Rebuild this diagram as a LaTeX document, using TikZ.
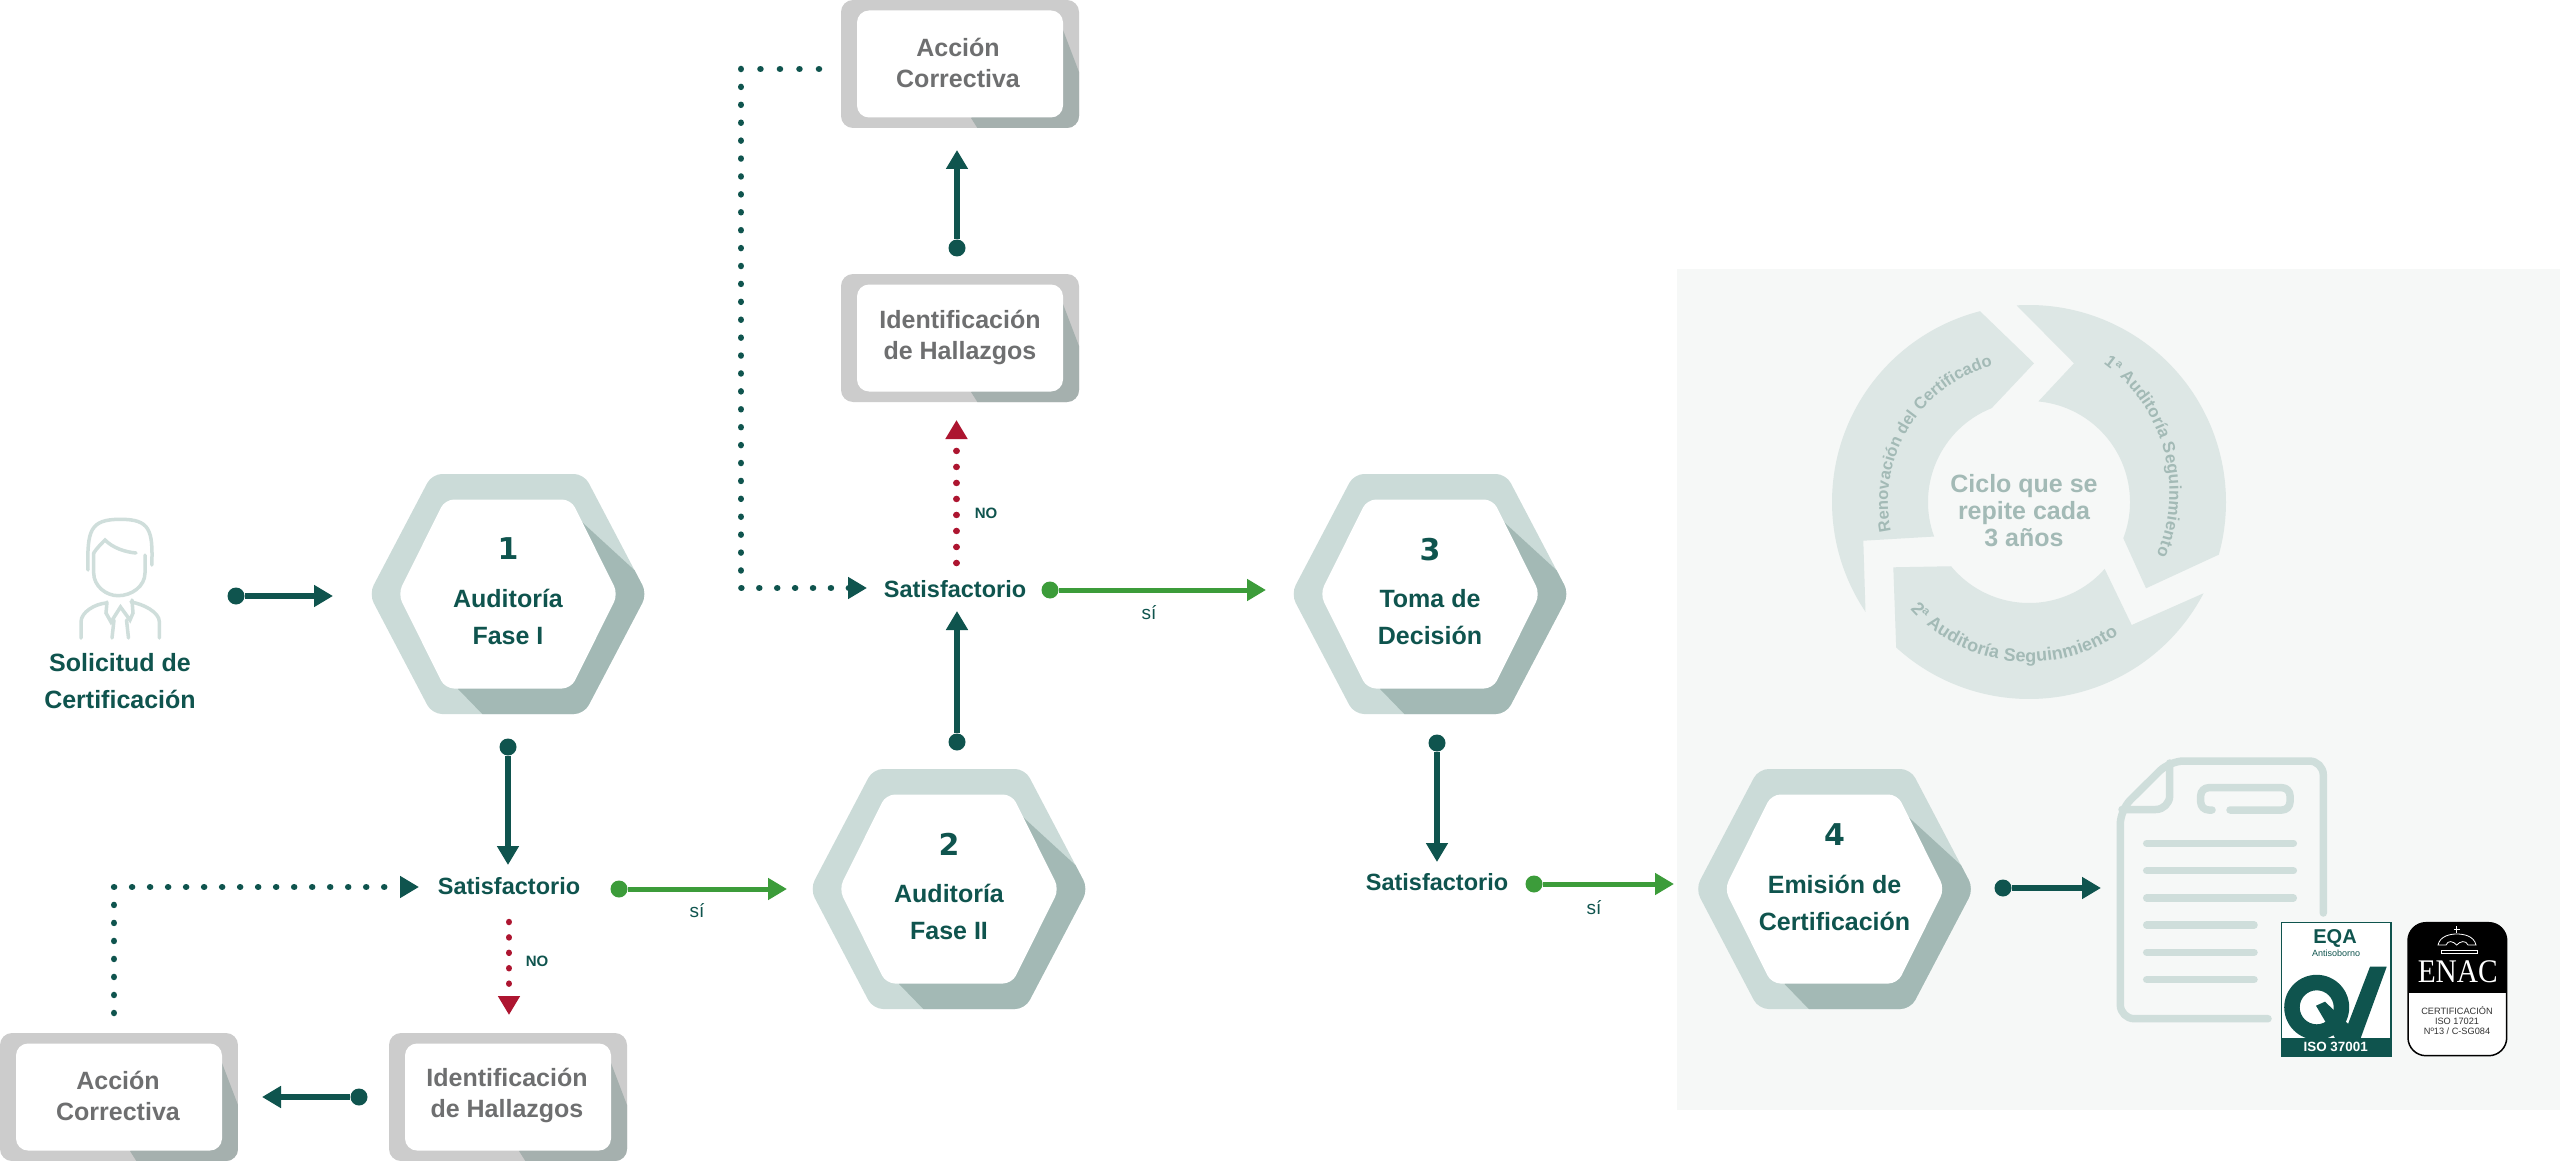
\documentclass[tikz,border=0pt]{standalone}
\usepackage{fontspec}
\setmainfont{Liberation Sans}
\newfontfamily\numfont{DejaVu Sans}
\newfontfamily\enacfont{Liberation Serif}
\usetikzlibrary{arrows.meta,decorations.text}
\definecolor{verdeosc}{HTML}{0F544E}
\definecolor{verdeok}{HTML}{3C9C3A}
\definecolor{rojono}{HTML}{AD1530}
\definecolor{hexclaro}{HTML}{CBDBD8}
\definecolor{hexoscuro}{HTML}{A3B9B5}
\definecolor{cajaclara}{HTML}{CCCCCC}
\definecolor{cajaoscura}{HTML}{A5B0AE}
\definecolor{textogris}{HTML}{6E6F70}
\definecolor{panelfondo}{HTML}{F6F8F7}
\definecolor{cicloclaro}{HTML}{DDE7E5}
\definecolor{ciclotexto}{HTML}{A3BAB6}
\definecolor{iconoclaro}{HTML}{CFDEDB}
\tikzset{
	punto/.style={circle,fill=verdeosc,inner sep=0pt,minimum size=17pt},
	puntook/.style={circle,fill=verdeok,inner sep=0pt,minimum size=17pt},
	flecha/.style={line width=6pt,color=verdeosc,-{Triangle[length=19pt,width=21pt]}},
	flechaok/.style={line width=5pt,color=verdeok,-{Triangle[length=19pt,width=21pt]}},
	puntos/.style={line width=6.5pt,line cap=round,color=verdeosc,dash pattern=on 0.01pt off 18pt,-{Triangle[length=19pt,width=21pt]}},
	puntosno/.style={line width=6.5pt,line cap=round,color=rojono,dash pattern=on 0.01pt off 16pt,-{Triangle[length=19pt,width=21pt]}},
	icono/.style={line width=7.5pt,line cap=round,line join=round,color=iconoclaro},
	persona/.style={line width=3.5pt,line cap=round,color=iconoclaro},
	hextxt/.style={inner sep=0pt,align=center,text=verdeosc,font=\bfseries\fontsize{25}{37}\selectfont},
	hexnum/.style={inner sep=0pt,text=verdeosc,font=\numfont\bfseries\fontsize{30}{30}\selectfont},
	cajatxt/.style={inner sep=0pt,align=center,text=textogris,font=\bfseries\fontsize{25}{31}\selectfont},
	satis/.style={inner sep=0pt,text=verdeosc,font=\bfseries\fontsize{23.5}{28}\selectfont},
	etiq/.style={inner sep=0pt,text=verdeosc,font=\fontsize{19}{20}\selectfont},
	etiqno/.style={inner sep=0pt,text=verdeosc,font=\bfseries\fontsize{15}{18}\selectfont},
	ciclotxt/.style={inner sep=0pt,align=center,text=ciclotexto,font=\bfseries\fontsize{25}{27}\selectfont},
	logotxt/.style={inner sep=0pt,align=center,text=#1}
}
\def\hexagono(#1,#2){
	\begin{scope}[shift={(#1,#2)}]
		\begin{scope}
			\clip[rounded corners=10pt] (-139,0) -- (-76,120) -- (76,120) -- (139,0) -- (76,-120) -- (-76,-120) -- cycle;
			\fill[hexclaro] (-150,-130) rectangle (150,130);
			\fill[hexoscuro] (63,82) -- (135,16) -- (150,0) -- (150,-130) -- (-16,-130) -- (-50,-95) -- cycle;
		\end{scope}
		\fill[white,rounded corners=9pt] (-110,0) -- (-63,94.5) -- (63,94.5) -- (110,0) -- (63,-94.5) -- (-63,-94.5) -- cycle;
	\end{scope}
}
\def\cajita(#1,#2){
	\begin{scope}[shift={(#1,#2)}]
		\begin{scope}
			\clip[rounded corners=12pt] (-119,-64) rectangle (119,64);
			\fill[cajaclara] (-120,-65) rectangle (120,65);
			\fill[cajaoscura] (103,34) -- (119,-8) -- (120,-65) -- (18,-65) -- (11,-54) -- cycle;
		\end{scope}
		\fill[white,rounded corners=12pt] (-103,-53.5) rectangle (103,53.5);
	\end{scope}
}
\begin{document}
\begin{tikzpicture}[x=1pt,y=1pt]
		%%%%% FONDO %%%%%
		\useasboundingbox (0,0) rectangle (2560,-1161);
		\fill[white] (0,0) rectangle (2560,-1161);
		\fill[panelfondo] (1677,-269) rectangle (2560,-1110);
		
		%%%%% CICLO %%%%%
		\coordinate (ciclo) at (2029,-502);
		\coordinate (ciclob) at (2010.4,-492.5);
		\fill[cicloclaro] ([shift={(213.9:197)}]ciclo) arc (213.9:104.4:197) -- (2034,-363.3) -- ([shift={(111.7:101)}]ciclo) arc (111.7:200:101) -- (1863.3,-540.7) -- cycle;
		\fill[cicloclaro] ([shift={(93.6:197)}]ciclo) arc (93.6:-15.5:197) -- (2146,-588.3) -- ([shift={(-21:101)}]ciclo) arc (-21:84.7:101) -- (2074,-363.3) -- cycle;
		\fill[cicloclaro] ([shift={(-27.6:197)}]ciclo) arc (-27.6:-132.4:197) -- (1893.3,-567.3) -- ([shift={(-140.5:101)}]ciclo) arc (-140.5:-41.5:101) -- (2131.7,-625) -- cycle;
		\path[decorate,decoration={text along path,text align={fit to path},text={|\bfseries\fontsize{16.5}{16.5}\selectfont\color{ciclotexto}|Renovación del Certificado}}] ([shift={(192:141)}]ciclo) arc (192:105:141);
		\path[decorate,decoration={text along path,text align={fit to path},text={|\bfseries\fontsize{17}{17}\selectfont\color{ciclotexto}|1ª Auditoría Seguinmiento}}] ([shift={(54.2:159)}]ciclob) arc (54.2:-23.1:159);
		\path[decorate,decoration={text along path,text align={fit to path},text={|\bfseries\fontsize{18}{18}\selectfont\color{ciclotexto}|2ª Auditoría Seguinmiento}}] ([shift={(222:160)}]ciclo) arc (222:304:160);
		\node[ciclotxt] (centro) at (2024,-511) {Ciclo que se\\repite cada\\3 años};
		
		%%%%% SOLICITUD %%%%%
		\draw[persona] (151.8,-565) .. controls (153,-530) and (150,-519.3) .. (120.5,-519.3) .. controls (90,-519.3) and (87,-530) .. (88,-570);
		\draw[persona] (93.7,-553) -- (93.7,-573) .. controls (93.7,-586) and (106,-595.7) .. (118,-595.7) .. controls (132,-595.7) and (145,-586) .. (145,-573) -- (145,-555);
		\draw[persona] (93.7,-553) .. controls (97,-548) and (101,-544) .. (105,-540) .. controls (113,-548) and (125,-552) .. (136,-553);
		\draw[persona] (81,-638) -- (81,-622) .. controls (81,-612) and (95,-604) .. (106,-603);
		\draw[persona] (159.4,-638) -- (159.4,-622) .. controls (159.4,-612) and (143,-604) .. (131,-602);
		\draw[persona] (107,-602) -- (106,-613) -- (111,-622) -- (120.5,-607) -- (130,-620) -- (133,-613) -- (132,-600);
		\draw[persona] (114,-620) -- (112,-638);
		\draw[persona] (126.5,-620) -- (128.5,-638);
		\node[hextxt,font=\bfseries\fontsize{25}{37}\selectfont] (solicitud) at (120,-681) {Solicitud de\\Certificación};
		
		%%%%% HEXAGONOS %%%%%
		\hexagono(508,-594)
		\hexagono(949,-889)
		\hexagono(1430,-594)
		\hexagono(1834.5,-889)
		\node[hexnum] (num1) at (508,-549) {1};
		\node[hextxt] (hex1) at (508,-617) {Auditoría\\Fase I};
		\node[hexnum] (num2) at (949,-844) {2};
		\node[hextxt] (hex2) at (949,-912) {Auditoría\\Fase II};
		\node[hexnum] (num3) at (1430,-550) {3};
		\node[hextxt] (hex3) at (1430,-617) {Toma de\\Decisión};
		\node[hexnum] (num4) at (1834.5,-835) {4};
		\node[hextxt] (hex4) at (1834.5,-903) {Emisión de\\Certificación};
		
		%%%%% CAJAS %%%%%
		\cajita(960,-64)
		\cajita(960,-338)
		\cajita(119,-1097)
		\cajita(508,-1097)
		\node[cajatxt] (accion1) at (958,-63) {Acción\\Correctiva};
		\node[cajatxt] (hallazgo1) at (960,-337) {Identificación\\de Hallazgos};
		\node[cajatxt] (accion2) at (118,-1095.5) {Acción\\Correctiva};
		\node[cajatxt] (hallazgo2) at (507,-1095.5) {Identificación\\de Hallazgos};
		
		%%%%% DECISIONES %%%%%
		\node[satis] (satis1) at (509,-886) {Satisfactorio};
		\node[satis] (satis2) at (955,-589) {Satisfactorio};
		\node[satis] (satis3) at (1437,-882) {Satisfactorio};
		\node[etiq] (si1) at (697,-911) {sí};
		\node[etiq] (si2) at (1149,-613) {sí};
		\node[etiq] (si3) at (1594,-908) {sí};
		\node[etiqno] (no1) at (537,-961) {NO};
		\node[etiqno] (no2) at (986,-513) {NO};
		
		%%%%% FLECHAS %%%%%
		\node[punto] (p1) at (236,-596) {};
		\coordinate (f1) at (333,-596);
		\draw[flecha] (p1) -- (f1);
		
		\node[punto] (p2) at (508,-747) {};
		\coordinate (f2) at (508,-865);
		\draw[flecha] (p2) -- (f2);
		
		\node[puntook] (p3) at (619,-889) {};
		\coordinate (f3) at (787,-889);
		\draw[flechaok] (p3) -- (f3);
		
		\coordinate (d1) at (114,-1013);
		\coordinate (d2) at (114,-887);
		\coordinate (f4) at (419,-887);
		\draw[puntos] (d1) -- (d2) -- (f4);
		
		\coordinate (r1) at (509,-922);
		\coordinate (f5) at (509,-1015);
		\draw[puntosno,dash pattern=on 0.01pt off 15.4pt] (r1) -- (f5);
		
		\node[punto] (p6) at (359,-1097) {};
		\coordinate (f6) at (262,-1097);
		\draw[flecha] (p6) -- (f6);
		
		\node[punto] (p7) at (957,-742) {};
		\coordinate (f7) at (957,-611);
		\draw[flecha] (p7) -- (f7);
		
		\coordinate (r2) at (956.5,-563);
		\coordinate (f8) at (956.5,-420);
		\draw[puntosno] (r2) -- (f8);
		
		\node[punto] (p9) at (957,-248) {};
		\coordinate (f9) at (957,-150);
		\draw[flecha] (p9) -- (f9);
		
		\coordinate (d3) at (819,-69);
		\coordinate (d4) at (741,-69);
		\coordinate (d5) at (741,-588);
		\coordinate (f10) at (867,-588);
		\draw[line width=6.5pt,line cap=round,color=verdeosc,dash pattern=on 0.01pt off 19.5pt] (d3) -- (d4);
		\draw[puntos,dash pattern=on 0.01pt off 17.9pt] (d4) -- (d5) -- (f10);
		
		\node[puntook] (p11) at (1050,-590) {};
		\coordinate (f11) at (1266,-590);
		\draw[flechaok] (p11) -- (f11);
		
		\node[punto] (p12) at (1437,-743) {};
		\coordinate (f12) at (1437,-862);
		\draw[flecha] (p12) -- (f12);
		
		\node[puntook] (p13) at (1534,-884) {};
		\coordinate (f13) at (1674,-884);
		\draw[flechaok] (p13) -- (f13);
		
		\node[punto] (p14) at (2003,-888) {};
		\coordinate (f14) at (2101,-888);
		\draw[flecha] (p14) -- (f14);
		
		%%%%% DOCUMENTO %%%%%
		\draw[icono,rounded corners=14pt] (2323.3,-913) -- (2323.3,-761) -- (2169.7,-761) -- (2120.3,-810) -- (2120.3,-1018.7) -- (2268,-1018.7);
		\draw[icono,rounded corners=14pt] (2169.7,-763) -- (2169.7,-809.5) -- (2122,-809.5);
		\draw[icono,rounded corners=8pt] (2212,-810) -- (2200.7,-810) -- (2200.7,-787.7) -- (2290,-787.7) -- (2290,-810) -- (2230,-810);
		\draw[icono] (2146.7,-843.3) -- (2293.3,-843.3);
		\draw[icono] (2146.7,-870.7) -- (2293.3,-870.7);
		\draw[icono] (2146.7,-898) -- (2293.3,-898);
		\draw[icono] (2146.7,-925) -- (2254,-925);
		\draw[icono] (2146.7,-952.3) -- (2254,-952.3);
		\draw[icono] (2146.7,-979.7) -- (2254,-979.7);
		
		%%%%% LOGO EQA %%%%%
		\draw[fill=white,draw=verdeosc,line width=1.5pt] (2281.7,-922.7) rectangle (2391,-1056);
		\begin{scope}
			\clip (2281.7,-922.7) rectangle (2391,-1038);
			\fill[verdeosc,even odd rule] (2316.7,-1007.3) circle (32.5) (2316.7,-1007.3) circle (17);
		\end{scope}
		\fill[verdeosc] (2316,-1005.7) -- (2325,-1001.7) -- (2351.7,-1027.3) -- (2350,-1038) -- (2335,-1038) -- cycle;
		\fill[verdeosc] (2370,-966.7) -- (2386.7,-966.7) -- (2360.7,-1038) -- (2345,-1038) -- (2348.3,-1023.3) -- cycle;
		\fill[verdeosc] (2281.7,-1037.7) rectangle (2391,-1056);
		\node[logotxt=verdeosc,font=\bfseries\fontsize{20}{20}\selectfont] (eqa) at (2335,-938) {EQA};
		\node[logotxt=verdeosc,font=\fontsize{9}{10}\selectfont] (antisoborno) at (2336,-953) {Antisoborno};
		\node[logotxt=white,font=\bfseries\fontsize{13.4}{14}\selectfont] (iso) at (2335.7,-1047) {ISO 37001};
		
		%%%%% LOGO ENAC %%%%%
		\draw[fill=white,draw=black,line width=1.5pt,rounded corners=18pt] (2408,-922.7) rectangle (2506.7,-1055.7);
		\begin{scope}
			\clip[rounded corners=18pt] (2408,-922.7) rectangle (2506.7,-1055.7);
			\fill[black] (2408,-922.7) rectangle (2506.7,-992.7);
		\end{scope}
		\draw[white,line width=0.8pt] (2438,-945) .. controls (2440,-936) and (2450,-934) .. (2456.7,-934) .. controls (2464,-934) and (2474,-936) .. (2476,-945) -- (2468,-945) .. controls (2466,-940) and (2460,-941) .. (2456.7,-945) .. controls (2453,-941) and (2448,-940) .. (2446,-945) -- cycle;
		\draw[white,line width=0.8pt] (2441,-950) rectangle (2477,-953.5);
		\draw[white,line width=1.5pt] (2456.7,-926) -- (2456.7,-933);
		\draw[white,line width=1.5pt] (2453.5,-929.5) -- (2460,-929.5);
		\node[logotxt=white,font=\enacfont\fontsize{33}{33}\selectfont] (enac) at (2457.7,-971.7) {\scalebox{0.89}[1]{ENAC}};
		\node[logotxt=black!80,font=\fontsize{9.2}{10}\selectfont] (certenac) at (2457,-1021) {CERTIFICACIÓN\\ISO 17021\\Nº13 / C-SG084};
		%%%%% END %%%%%
	\end{tikzpicture}
\end{document}
